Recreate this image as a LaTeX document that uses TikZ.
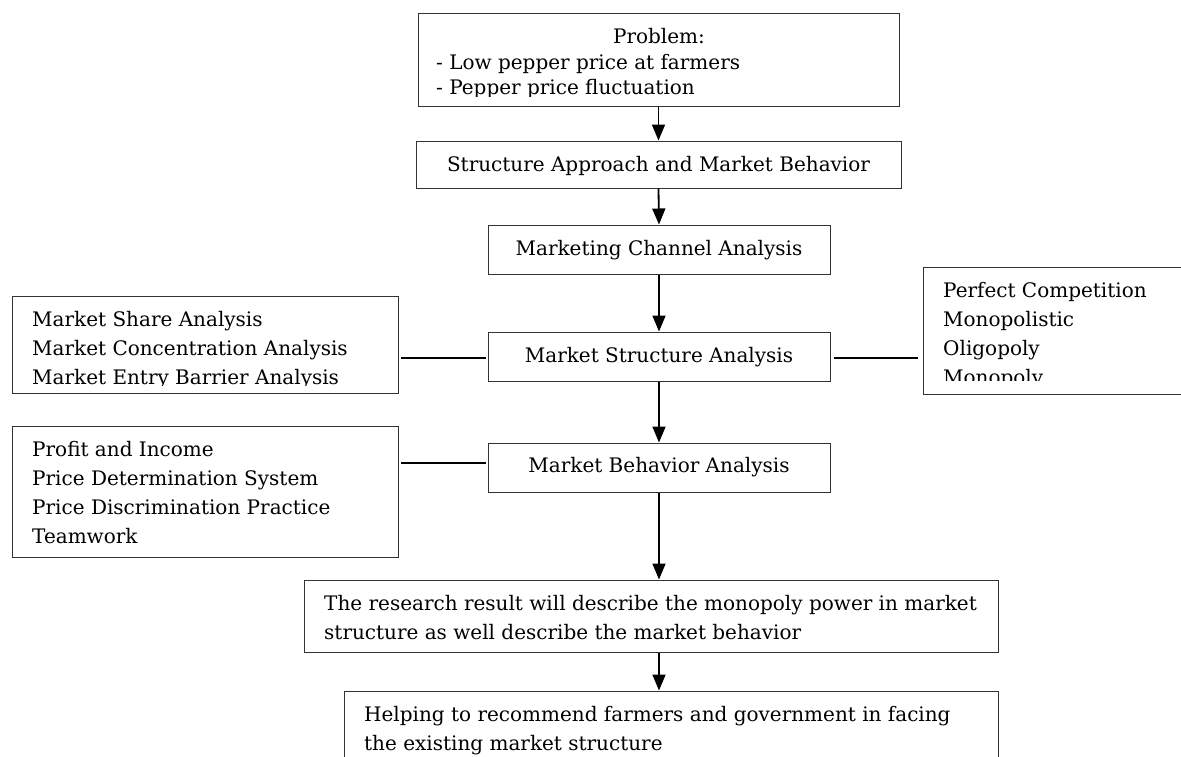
\documentclass[tikz,border=0pt]{standalone}
\usepackage{fontspec}
\setmainfont{DejaVu Serif}
\usetikzlibrary{arrows.meta}
\begin{document}
\begin{tikzpicture}[x=1pt,y=-1pt,
  box/.style={draw=black!80, line width=1pt, inner sep=0pt},
  txt/.style={inner sep=0pt, font=\fontsize{20}{29}\selectfont},
  ltxt/.style={txt, align=left, anchor=base west},
  ctxt/.style={txt, anchor=base},
  arr/.style={line width=1.8pt, -{Triangle[length=16pt,width=13pt]}},
  con/.style={line width=1.8pt}]
\useasboundingbox (0,0) rectangle (1181,756);
% boxes
\node[box, minimum width=481, minimum height=93] (prob) at (658.5,59.5) {};
\node[box, minimum width=485, minimum height=47] (sa) at (658.5,164.5) {};
\node[box, minimum width=342, minimum height=49] (mc) at (659,249.5) {};
\node[box, minimum width=342, minimum height=49] (ms) at (659,356.5) {};
\node[box, minimum width=342, minimum height=49] (mb) at (659,467.5) {};
\node[box, minimum width=386, minimum height=97] (l1) at (205,344.5) {};
\node[box, minimum width=386, minimum height=131] (l2) at (205,491.5) {};
\node[box, minimum width=270, minimum height=127] (r1) at (1058,330.5) {};
\node[box, minimum width=694, minimum height=72] (res) at (651,616) {};
\node[box, minimum width=654, minimum height=90] (help) at (671,736) {};
% texts
\begin{scope}
\clip (418,14) rectangle (899,96);
\node[ctxt] (probt) at (659,43) {Problem:};
\node[ltxt] (probl1) at (436,69) {- Low pepper price at farmers};
\node[ltxt] (probl2) at (436,94) {- Pepper price fluctuation};
\end{scope}
\node[ctxt] (sat) at (658.5,171) {Structure Approach and Market Behavior};
\node[ctxt] (mct) at (659,255) {Marketing Channel Analysis};
\node[ctxt] (mst) at (659,362) {Market Structure Analysis};
\node[ctxt] (mbt) at (659,472) {Market Behavior Analysis};
\begin{scope}
\clip (12,296) rectangle (398,385);
\node[ltxt] (l1a) at (32,326) {Market Share Analysis};
\node[ltxt] (l1b) at (32,355) {Market Concentration Analysis};
\node[ltxt] (l1c) at (32,384) {Market Entry Barrier Analysis};
\end{scope}
\node[ltxt] (l2a) at (32,456) {Profit and Income};
\node[ltxt] (l2b) at (32,485) {Price Determination System};
\node[ltxt] (l2c) at (32,514) {Price Discrimination Practice};
\node[ltxt] (l2d) at (32,543) {Teamwork};
\begin{scope}
\clip (923,267) rectangle (1181,380);
\node[ltxt] (r1a) at (943,297) {Perfect Competition};
\node[ltxt] (r1b) at (943,326) {Monopolistic};
\node[ltxt] (r1c) at (943,355) {Oligopoly};
\node[ltxt] (r1d) at (943,384) {Monopoly};
\end{scope}
\node[ltxt] (resa) at (324,610) {The research result will describe the monopoly power in market};
\node[ltxt] (resb) at (324,639) {structure as well describe the market behavior};
\node[ltxt] (helpa) at (364,721) {Helping to recommend farmers and government in facing};
\node[ltxt] (helpb) at (364,750) {the existing market structure};
% connectors
\draw[arr] (prob.south) -- (sa.north);
\draw[arr] (sa.south) -- (mc.north);
\draw[arr] (mc.south) -- (ms.north);
\draw[arr] (ms.south) -- (mb.north);
\draw[arr] (mb.south) -- (mb.south |- res.north);
\coordinate (resout) at (mb.south |- res.south);
\draw[arr] (resout) -- (resout |- help.north);
\draw[con, shorten <=2pt, shorten >=2pt] ([yshift=-1.5pt]ms.west) -- ([yshift=-1.5pt]ms.west -| l1.east);
\draw[con, shorten <=3pt, shorten >=5pt] ([yshift=-1.5pt]ms.east) -- ([yshift=-1.5pt]ms.east -| r1.west);
\draw[con, shorten <=2pt, shorten >=2pt] ([yshift=4.5pt]mb.west) -- ([yshift=4.5pt]mb.west -| l2.east);
\end{tikzpicture}
\end{document}
